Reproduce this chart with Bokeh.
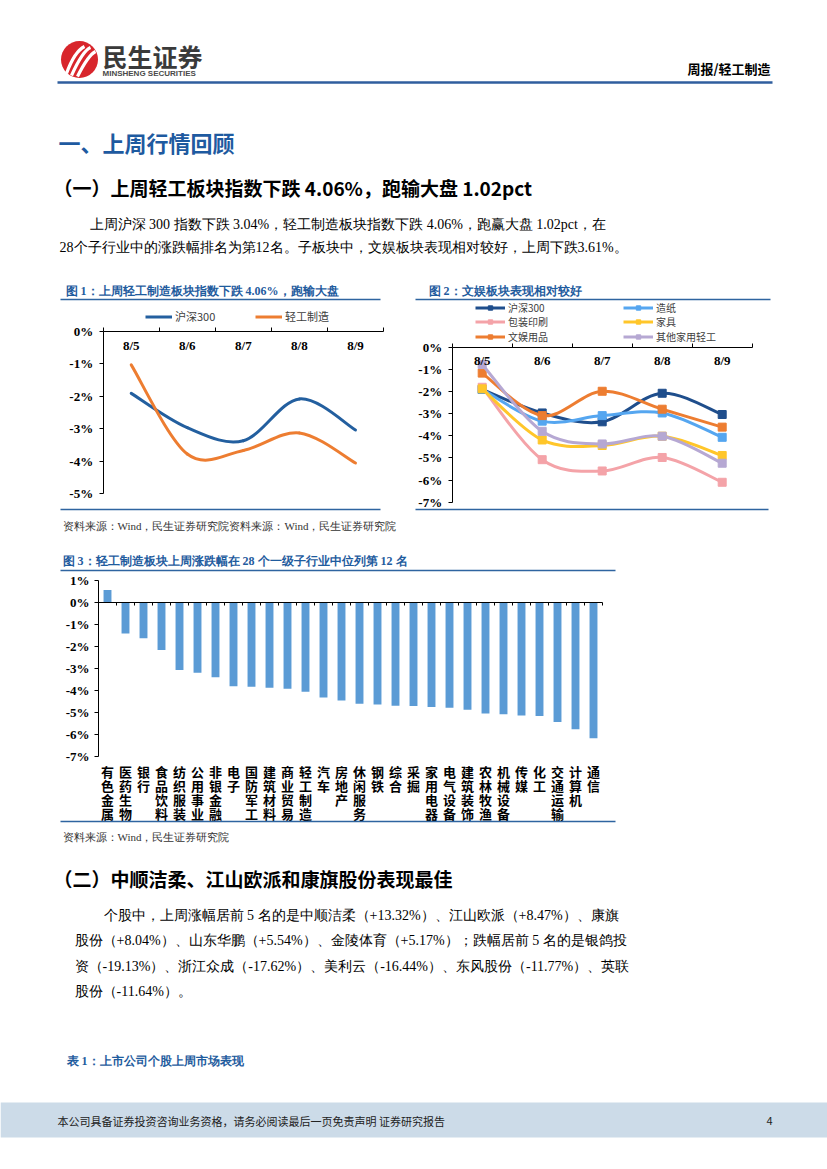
from bokeh.plotting import figure
from bokeh.models import (Range1d, FixedTicker, LinearAxis, Legend, LegendItem,
                          PrintfTickFormatter)
from bokeh.embed import file_html
from bokeh.resources import INLINE
from bokeh.core.properties import value

# ---------------- data ----------------
dates = ["8/5", "8/6", "8/7", "8/8", "8/9"]
fig1_names = ["沪深300", "轻工制造"]
hs300 = [-1.91, -2.97, -3.37, -2.08, -3.04]
light_industry = [-1.03, -3.78, -3.67, -3.13, -4.06]

fig2_names = ["沪深300", "造纸", "包装印刷", "家具", "文娱用品", "其他家用轻工"]
paper = [-1.90, -3.34, -3.09, -2.97, -4.07]
packaging = [-1.81, -5.08, -5.59, -4.98, -6.10]
furniture = [-1.88, -4.19, -4.44, -4.02, -4.89]
stationery = [-1.17, -3.09, -1.99, -2.80, -3.61]
other_household = [-0.78, -3.80, -4.37, -4.02, -5.24]

industries = ["有色金属", "医药生物", "银行", "食品饮料", "纺织服装", "公用事业", "非银金融",
              "电子", "国防军工", "建筑材料", "商业贸易", "轻工制造", "汽车", "房地产",
              "休闲服务", "钢铁", "综合", "采掘", "家用电器", "电气设备", "建筑装饰",
              "农林牧渔", "机械设备", "传媒", "化工", "交通运输", "计算机", "通信"]
industry_change = [0.57, -1.41, -1.62, -2.16, -3.07, -3.19, -3.40, -3.81, -3.83, -3.87,
                   -3.92, -4.06, -4.32, -4.46, -4.60, -4.64, -4.69, -4.70, -4.75, -4.78,
                   -4.87, -5.05, -5.08, -5.14, -5.16, -5.43, -5.76, -6.17]

fig1_ticks = [0, -1, -2, -3, -4, -5]
fig2_ticks = [0, -1, -2, -3, -4, -5, -6, -7]
fig3_ticks = [1, 0, -1, -2, -3, -4, -5, -6, -7]

# ---------------- styles ----------------
TITLE_BLUE = "#1F5C9E"
RULE = "#2E64A0"
FIG1_COLORS = ["#235F9F", "#ED7D31"]
FIG2_COLORS = ["#1F4E8C", "#55A6F0", "#F4A3A8", "#FFC62A", "#ED7D31", "#B6A8D3"]
BAR = "#5B9BD5"
SERIF = "Liberation Serif"
CJK = "Noto Sans CJK SC"

FIG_W, FIG_H = 827, 1165

p = figure(width=FIG_W, height=FIG_H, x_range=Range1d(0, FIG_W), y_range=Range1d(FIG_H, 0),
           x_axis_location=None, y_axis_location=None, min_border=0,
           output_backend="svg", toolbar_location=None)
p.outline_line_color = None
p.grid.visible = False


def anchored(v_a, s_a, v_b, s_b, vertical):
    """Range whose values v_a, v_b land on page pixels s_a, s_b."""
    k = (v_b - v_a) / (s_b - s_a)
    total = FIG_H if vertical else FIG_W
    v0 = v_a - k * s_a
    v1 = v_a + k * (total - s_a)
    return Range1d(start=v1, end=v0) if vertical else Range1d(start=v0, end=v1)


n1 = len(dates)
n3 = len(industries)
p.extra_x_ranges = {
    "c1x": anchored(-0.5, 102.7, n1 - 0.5, 383.0, False),
    "c2x": anchored(-0.5, 451.7, n1 - 0.5, 751.7, False),
    "c3x": anchored(-0.5, 98.0, n3 - 0.5, 602.0, False),
}
p.extra_y_ranges = {
    "c1y": anchored(0, 331.0, -5, 493.0, True),
    "c2y": anchored(0, 346.7, -7, 501.7, True),
    "c3y": anchored(1, 580.0, -7, 756.0, True),
}


def txt(x, y, s, size, color="#000000", bold=False, font=SERIF, align="left"):
    p.text(x=[x], y=[y], text=[s], text_font=value(font), text_font_size=f"{size}px",
           text_color=color, text_font_style="bold" if bold else "normal",
           text_align=align, text_baseline="middle")


def rule(x0, x1, y, color=RULE, w=1.5):
    p.quad(left=[x0], right=[x1], top=[y - w / 2], bottom=[y + w / 2],
           fill_color=color, line_color=None)


def smooth(xs, ys):
    n = len(xs)
    seg = {k: [] for k in ("x0", "y0", "x1", "y1", "cx0", "cy0", "cx1", "cy1")}
    for i in range(n - 1):
        a = max(i - 1, 0)
        d = min(i + 2, n - 1)
        seg["x0"].append(xs[i]); seg["y0"].append(ys[i])
        seg["x1"].append(xs[i + 1]); seg["y1"].append(ys[i + 1])
        seg["cx0"].append(xs[i] + (xs[i + 1] - xs[a]) / 6)
        seg["cy0"].append(ys[i] + (ys[i + 1] - ys[a]) / 6)
        seg["cx1"].append(xs[i + 1] - (xs[d] - xs[i]) / 6)
        seg["cy1"].append(ys[i + 1] - (ys[d] - ys[i]) / 6)
    return seg


def pct_axis(xr, yr, ticks, loc, standoff=6):
    ax = LinearAxis(x_range_name=xr, y_range_name=yr, fixed_location=loc,
                    ticker=FixedTicker(ticks=ticks, minor_ticks=[]),
                    bounds=(min(ticks), max(ticks)),
                    formatter=PrintfTickFormatter(format="%d%%"),
                    axis_line_color="#000000", axis_line_width=1,
                    major_tick_line_color="#000000", major_tick_out=4, major_tick_in=0,
                    minor_tick_line_color=None,
                    major_label_standoff=standoff,
                    major_label_text_font=SERIF, major_label_text_font_style="bold",
                    major_label_text_font_size="13px", major_label_text_color="#000000")
    p.add_layout(ax, "left")


def date_axis(xr, yr, labels):
    n = len(labels)
    ax = LinearAxis(x_range_name=xr, y_range_name=yr, fixed_location=0,
                    bounds=(-0.5, n - 0.5),
                    ticker=FixedTicker(ticks=list(range(n)),
                                       minor_ticks=[i - 0.5 for i in range(n + 1)]),
                    major_label_overrides={i: s for i, s in enumerate(labels)},
                    axis_line_color="#000000", axis_line_width=1,
                    major_tick_line_color=None, major_tick_in=0, major_tick_out=0,
                    minor_tick_line_color="#000000", minor_tick_in=4, minor_tick_out=0,
                    major_label_standoff=6,
                    major_label_text_font=SERIF, major_label_text_font_style="bold",
                    major_label_text_font_size="13px", major_label_text_color="#000000")
    p.add_layout(ax, "below")


def make_legend(items, left, center_y, glyph_w, label_w, font_px, item_h):
    lg = Legend(items=items, location=(left, FIG_H - (center_y + item_h / 2)),
                orientation="horizontal",
                glyph_width=glyph_w, glyph_height=11, label_width=label_w, label_height=11,
                label_standoff=3, spacing=0, padding=0, margin=0,
                label_text_font=CJK, label_text_font_size=f"{font_px}px",
                label_text_color="#404040", border_line_color=None,
                background_fill_alpha=0)
    p.add_layout(lg)


# ================= header & text =================
p.scatter(x=[79], y=[59], size=37, marker="circle", fill_color="#D8262C", line_color=None)
p.bezier(x0=[66, 71, 77], y0=[73, 75, 76], x1=[84, 90, 95], y1=[46, 47, 51],
         cx0=[70, 76, 82], cy0=[62, 64, 66], cx1=[76, 83, 89], cy1=[50, 50, 54],
         line_color="white", line_width=3.2)
txt(102, 55, "民生证券", 25, "#3A3A3A", True, CJK)
txt(102, 73, "MINSHENG SECURITIES", 8, "#4A4A4A", True, "Liberation Sans")
txt(770, 68, "周报/轻工制造", 13, "#000000", True, CJK, "right")
rule(57, 772, 82, "#2F5E9E", 2.5)
txt(58, 141, "一、上周行情回顾", 22, "#1E5AA0", True, CJK)
txt(53, 187, "（一）上周轻工板块指数下跌 4.06%，跑输大盘 1.02pct", 19, "#000000", True, CJK)
txt(89, 224, "上周沪深 300 指数下跌 3.04%，轻工制造板块指数下跌 4.06%，跑赢大盘 1.02pct，在", 14)
txt(59, 247, "28个子行业中的涨跌幅排名为第12名。子板块中，文娱板块表现相对较好，上周下跌3.61%。", 14)
txt(65, 290, "图 1：上周轻工制造板块指数下跌 4.06%，跑输大盘", 12, TITLE_BLUE, True)
txt(428, 290, "图 2：文娱板块表现相对较好", 12, TITLE_BLUE, True)
rule(60, 380, 299)
rule(415, 770, 299)

# ================= Chart 1 =================
xs = list(range(n1))
pct_axis("c1x", "c1y", fig1_ticks, -0.5)
date_axis("c1x", "c1y", dates)
items1 = []
for name, ys, col in zip(fig1_names, [hs300, light_industry], FIG1_COLORS):
    p.bezier(**smooth(xs, ys), line_color=col, line_width=3, line_cap="round",
             x_range_name="c1x", y_range_name="c1y")
    key = p.line(x=xs, y=ys, line_color=col, line_width=3, visible=False,
                 x_range_name="c1x", y_range_name="c1y")
    items1.append(LegendItem(label=name, renderers=[key]))
make_legend(items1, 145, 316, 27, 80, 11, 16)

# ================= Chart 2 =================
pct_axis("c2x", "c2y", fig2_ticks, -0.5)
date_axis("c2x", "c2y", dates)
items2 = []
for name, ys, col in zip(fig2_names,
                         [hs300, paper, packaging, furniture, stationery, other_household],
                         FIG2_COLORS):
    p.bezier(**smooth(xs, ys), line_color=col, line_width=3, line_cap="round",
             x_range_name="c2x", y_range_name="c2y")
    mk = p.scatter(x=xs, y=ys, marker="square", size=8, fill_color=col, line_color=col,
                   x_range_name="c2x", y_range_name="c2y")
    key = p.line(x=xs, y=ys, line_color=col, line_width=3, visible=False,
                 x_range_name="c2x", y_range_name="c2y")
    items2.append(LegendItem(label=name, renderers=[key, mk]))
for r, cy in enumerate([307.6, 322.2, 336.8]):
    make_legend(items2[2 * r:2 * r + 2], 475, cy, 30, 115, 10, 14.5)

# ================= between charts =================
rule(60, 380, 509)
rule(415, 768, 509)
txt(62, 525, "资料来源：Wind，民生证券研究院资料来源：Wind，民生证券研究院", 11, "#333333")
txt(62, 560, "图 3：轻工制造板块上周涨跌幅在 28 个一级子行业中位列第 12 名", 12, TITLE_BLUE, True)
rule(60, 615, 570)

# ================= Chart 3 =================
idx = list(range(n3))
p.vbar(x=idx, top=industry_change, bottom=0, width=0.44, fill_color=BAR, line_color=None,
       x_range_name="c3x", y_range_name="c3y")
pct_axis("c3x", "c3y", fig3_ticks, -0.5, standoff=5)
zero_ax = LinearAxis(x_range_name="c3x", y_range_name="c3y", fixed_location=0,
                     bounds=(-0.5, n3 - 0.5),
                     ticker=FixedTicker(ticks=[], minor_ticks=[i - 0.5 for i in range(n3 + 1)]),
                     axis_line_color="#000000", axis_line_width=1,
                     major_tick_line_color=None, minor_tick_line_color="#000000",
                     minor_tick_in=0, minor_tick_out=3, major_label_text_font_size="0px")
p.add_layout(zero_ax, "below")
label_top = min(fig3_ticks) - 5 / 22.0   # 5 px under the -7% tick
p.text(x=idx, y=[label_top] * n3, text=["\n".join(s) for s in industries],
       text_font=value(CJK), text_font_style="bold", text_font_size="13px",
       text_line_height=0.745, text_color="#000000", text_align="center",
       text_baseline="top", x_range_name="c3x", y_range_name="c3y")

# ================= lower text & footer =================
rule(60, 615, 821)
txt(62, 836, "资料来源：Wind，民生证券研究院", 11, "#333333")
txt(53, 878, "（二）中顺洁柔、江山欧派和康旗股份表现最佳", 19, "#000000", True, CJK)
txt(103, 915, "个股中，上周涨幅居前 5 名的是中顺洁柔（+13.32%）、江山欧派（+8.47%）、康旗", 14)
txt(74, 940, "股份（+8.04%）、山东华鹏（+5.54%）、金陵体育（+5.17%）；跌幅居前 5 名的是银鸽投", 14)
txt(74, 966, "资（-19.13%）、浙江众成（-17.62%）、美利云（-16.44%）、东风股份（-11.77%）、英联", 14)
txt(74, 991, "股份（-11.64%）。", 14)
txt(66, 1060, "表 1：上市公司个股上周市场表现", 12, TITLE_BLUE, True)
p.quad(left=[0], right=[FIG_W], top=[1102], bottom=[1137], fill_color="#CCDBE8", line_color=None)
txt(57, 1120, "本公司具备证券投资咨询业务资格，请务必阅读最后一页免责声明 证券研究报告", 11, "#222222", False, CJK)
txt(772, 1120, "4", 11, "#222222", False, CJK, "right")

open("out.html", "w").write(file_html(p, INLINE))
